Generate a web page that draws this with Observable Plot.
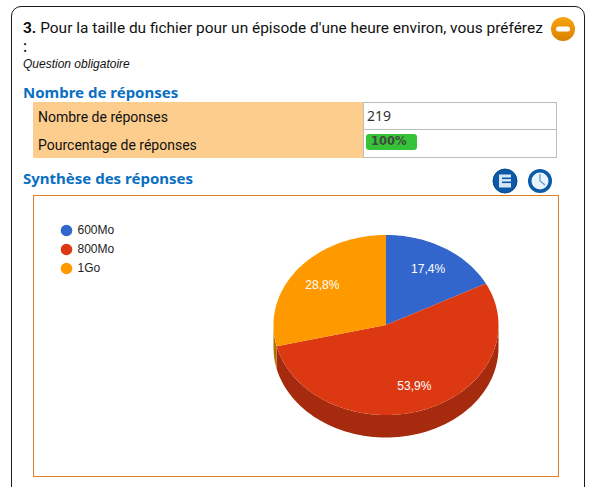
<!DOCTYPE html>
<html lang="fr">
<head>
<meta charset="utf-8">
<script src="https://cdn.jsdelivr.net/npm/d3@7"></script>
<script src="https://cdn.jsdelivr.net/npm/@observablehq/plot@0.6"></script>
<style>
html,body{margin:0;padding:0;background:#fff;}
body{width:605px;height:487px;overflow:hidden;position:relative;font-family:"Noto Sans",sans-serif;}
.abs{position:absolute;white-space:nowrap;}
#card{left:11px;top:6px;width:572px;height:520px;border:1.5px solid #1a1a1a;border-radius:10px;box-sizing:content-box;}
.q{left:23px;top:19px;font-family:Roboto,sans-serif;font-size:15.45px;line-height:18px;color:#111;}
.colon{left:23px;top:39px;font-size:15.5px;line-height:14px;color:#111;}
.oblig{left:23px;top:57px;font:italic 12px "Liberation Sans",Arial,sans-serif;color:#111;}
.h{left:23px;font-size:15px;font-weight:700;color:#0a6fc2;line-height:20px;}
.lab{left:33px;width:330px;background:#fccd8d;}
.lbl{left:38px;font-family:Roboto,sans-serif;font-size:14px;line-height:20px;color:#111;}
.val{left:363px;width:194px;box-sizing:border-box;border:1px solid #bdbdbd;background:#fff;}
.num{left:367px;top:106px;font-size:14px;line-height:20px;color:#333;}
.bar{left:366px;top:134px;width:51px;height:16px;background:#37c337;border-radius:3px;font:bold 11.5px "DejaVu Sans",sans-serif;color:#3d4a3d;line-height:14px;text-indent:5px;}
#box{left:33px;top:195px;width:526px;height:282px;box-sizing:border-box;border:1px solid #e07f1f;background:#fff;}
#pie,#legend{position:absolute;}
#pie{left:0;top:0;}
#legend{left:16px;top:22px;}
svg{display:block;}
</style>
</head>
<body>
<div class="abs" id="card"></div>
<div class="abs q"><b>3.</b> Pour la taille du fichier pour un épisode d'une heure environ, vous préférez</div>
<div class="abs colon">:</div>
<div class="abs oblig">Question obligatoire</div>
<svg class="abs" style="left:550px;top:16px" width="26" height="26" aria-hidden="true">
  <defs><linearGradient id="og" x1="0" y1="0" x2="0" y2="1"><stop offset="0" stop-color="#f9a50f"/><stop offset="1" stop-color="#d98200"/></linearGradient></defs>
  <circle cx="13" cy="13" r="12" fill="url(#og)"/><rect x="6" y="10.5" width="14" height="5" rx="2.5" fill="#fff"/>
</svg>
<div class="abs h" style="top:82px">Nombre de réponses</div>
<div class="abs lab" style="top:102px;height:56px"></div>
<div class="abs val" style="top:102px;height:28px"></div>
<div class="abs val" style="top:129px;height:29px"></div>
<div class="abs lbl" style="top:107px">Nombre de réponses</div>
<div class="abs lbl" style="top:135px">Pourcentage de réponses</div>
<div class="abs num">219</div>
<div class="abs bar">100%</div>
<div class="abs h" style="top:168px">Synthèse des réponses</div>
<svg class="abs" style="left:492px;top:168px" width="26" height="26" aria-hidden="true">
  <circle cx="13" cy="13" r="12" fill="#0a5aa8"/><circle cx="13" cy="13" r="12" fill="none" stroke="#064a8c" stroke-width="1"/>
  <rect x="7" y="6.5" width="12" height="13" fill="#d5e6f5"/><rect x="10" y="9.5" width="9" height="1.6" fill="#0a5aa8"/><rect x="10" y="13.5" width="9" height="1.6" fill="#0a5aa8"/>
</svg>
<svg class="abs" style="left:527px;top:168px" width="26" height="26" aria-hidden="true">
  <circle cx="13" cy="13" r="12" fill="#0a5aa8"/><circle cx="13" cy="13" r="8.5" fill="#eaf3fb"/>
  <path d="M13 6V13L18 17" fill="none" stroke="#5b9bd5" stroke-width="1.3"/>
</svg>
<div class="abs" id="box"><div id="pie"></div><div id="legend"></div></div>

<script>
// Data
const categories = ["600Mo", "800Mo", "1Go"];
const percents = [17.4, 53.9, 28.8];
const labels = ["17,4%", "53,9%", "28,8%"];
const colors = ["#3366cc", "#dc3912", "#ff9900"];
const sideColors = ["#24478f", "#a62a0e", "#b36f00"];

const depth = 0.25;      // pie thickness in units of the vertical radius
const labelRadius = 0.72;
const total = d3.sum(percents);
const cum = d3.cumsum(percents);
const slices = categories.map((c, i) => ({
  name: c,
  label: labels[i],
  a0: ((i ? cum[i - 1] : 0) / total) * 360,
  a1: (cum[i] / total) * 360
}));
const rad = (a) => (a * Math.PI) / 180;
const at = (a, r = 1, off = 0) => ({x: r * Math.sin(rad(a)), y: r * Math.cos(rad(a)) - off});
const arc = (a0, a1, off = 0) => {
  const n = Math.max(2, Math.ceil(a1 - a0));
  return d3.range(n + 1).map((k) => at(a0 + ((a1 - a0) * k) / n, 1, off));
};

const tops = slices.flatMap((s) =>
  [{x: 0, y: 0}, ...arc(s.a0, s.a1)].map((p) => ({...p, key: s.name}))
);
const sides = slices.flatMap((s) => {
  const a0 = Math.max(s.a0, 90), a1 = Math.min(s.a1, 270);
  if (a1 <= a0) return [];
  return [...arc(a0, a1), ...arc(a0, a1, depth).reverse()].map((p) => ({...p, key: s.name + " side"}));
});
const labelPoints = slices.map((s) => ({...at((s.a0 + s.a1) / 2, labelRadius), label: s.label}));

const colorScale = {
  domain: [...categories, ...categories.map((c) => c + " side")],
  range: [...colors, ...sideColors]
};

const pie = Plot.plot({
  width: 524,
  height: 280,
  margin: 0,
  x: {domain: [-1, 1], range: [239, 464], axis: null},
  y: {domain: [-1, 1], range: [218.5, 38.5], axis: null},
  color: colorScale,
  marks: [
    Plot.line(sides, {x: "x", y: "y", z: "key", fill: "key", stroke: null}),
    Plot.line(tops, {x: "x", y: "y", z: "key", fill: "key", stroke: null}),
    Plot.text(labelPoints, {x: "x", y: "y", text: "label", fill: "#fff", fontSize: 12, fontFamily: "Liberation Sans, Arial, sans-serif"})
  ]
});
pie.style.background = "transparent";
document.getElementById("pie").append(pie);

const legend = Plot.plot({
  width: 90,
  height: 62,
  margin: 0,
  x: {domain: [0, 1], range: [16, 27], axis: null},
  y: {type: "point", domain: categories, range: [11, 50], padding: 0, axis: null},
  color: {domain: categories, range: colors},
  marks: [
    Plot.dot(categories, {x: () => 0, y: (d) => d, r: 5.8, fill: (d) => d}),
    Plot.text(categories, {x: () => 1, y: (d) => d, text: (d) => d, textAnchor: "start", fill: "#222", fontSize: 12, fontFamily: "Liberation Sans, Arial, sans-serif"})
  ]
});
legend.style.background = "transparent";
document.getElementById("legend").append(legend);
</script>
</body>
</html>
